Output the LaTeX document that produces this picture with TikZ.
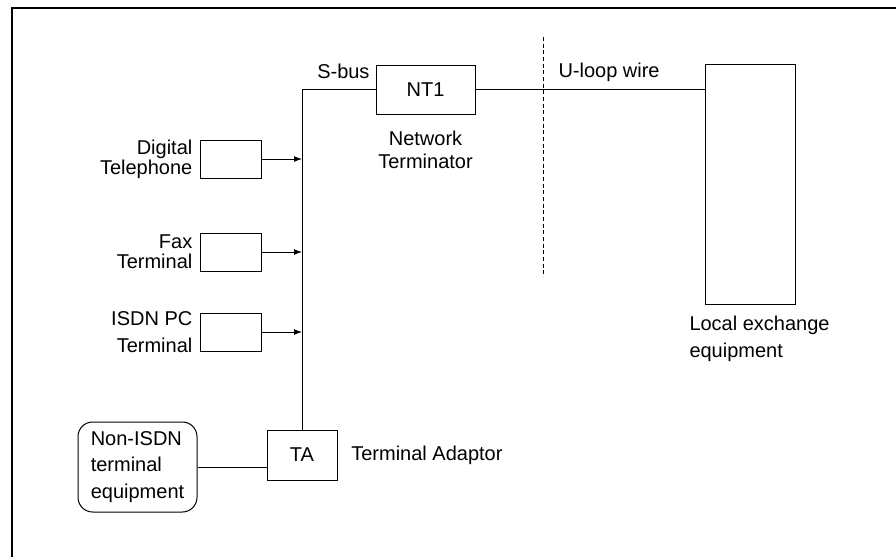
\documentclass[tikz,border=0pt]{standalone}
\usepackage{fontspec}
\setmainfont{Liberation Sans}
\usetikzlibrary{arrows.meta, positioning}

\begin{document}
\begin{tikzpicture}[
    x=0.75pt, y=-0.75pt,
    >={Latex[length=6pt,width=4.5pt]},
    font=\fontsize{15}{20}\selectfont,
    line width=0.75pt,
    unit/.style={
        rectangle, draw=black,
        minimum width=45.75pt, minimum height=28.5pt,
        inner sep=0pt
    },
    legacy/.style={
        rectangle, rounded corners=11pt, draw=black,
        minimum width=89.25pt, minimum height=67.5pt,
        inner sep=0pt, align=left
    },
    lbl/.style={inner sep=0pt},
    frame/.style={line width=1.2pt},
    cut/.style={dash pattern=on 3pt off 2pt}
]
\useasboundingbox (0,0) rectangle (896,557);

% outer frame (top and left edges only)
\coordinate (fbl) at (12,557);
\coordinate (ftl) at (12,8);
\coordinate (ftr) at (896,8);
\draw[frame] (fbl) -- (ftl) -- (ftr);

% network side
\node (nt1) [unit, minimum width=74.25pt, minimum height=36.75pt] at (425.5,89.5) {NT1};
\node (lex) [unit, minimum width=67.5pt, minimum height=180pt] at (750,184) {};
\node (ta)  [unit, minimum width=52.5pt, minimum height=37.5pt] at (302,455) {TA};

% terminals
\node (phone) [unit] at (230.5,159) {};
\node (fax)   [unit] at (230.5,252) {};
\node (pc)    [unit] at (230.5,332) {};
\node (nonisdn) [legacy] at (137.5,467) {Non-ISDN\\terminal\\equipment};

% labels
\node (phonelbl) [lbl, left=5pt of phone, align=right] {Digital\\[-5pt]Telephone};
\node (faxlbl)   [lbl, left=5pt of fax, align=right] {Fax\\[-5pt]Terminal};
\node (pclbl)    [lbl, left=5pt of pc, align=right] {ISDN PC\\Terminal};
\node (ntlbl)    [lbl, below=12pt of nt1, align=center] {Network\\[-3pt]Terminator};
\node (talbl)    [lbl, right=10pt of ta] {Terminal Adaptor};
\node (lexlbl)   [lbl, anchor=north west, align=left] at (689,316) {Local exchange\\equipment};
\node (sbus)     [lbl, anchor=base east] at (370,78) {S-bus};
\node (uloop)    [lbl, anchor=base west] at (558,77) {U-loop wire};

% demarcation
\coordinate (cuttop) at (543,37);
\coordinate (cutbot) at (543,277);
\draw[cut] (cuttop) -- (cutbot);

% wiring
\draw (nt1.west) -| (ta.north);
\draw (nt1.east) -- (nt1.east -| lex.west);
\draw (nonisdn.east) -- (nonisdn.east -| ta.west);
\draw[->] (phone.east) -- (phone.east -| ta.north);
\draw[->] (fax.east) -- (fax.east -| ta.north);
\draw[->] (pc.east) -- (pc.east -| ta.north);

\end{tikzpicture}
\end{document}
